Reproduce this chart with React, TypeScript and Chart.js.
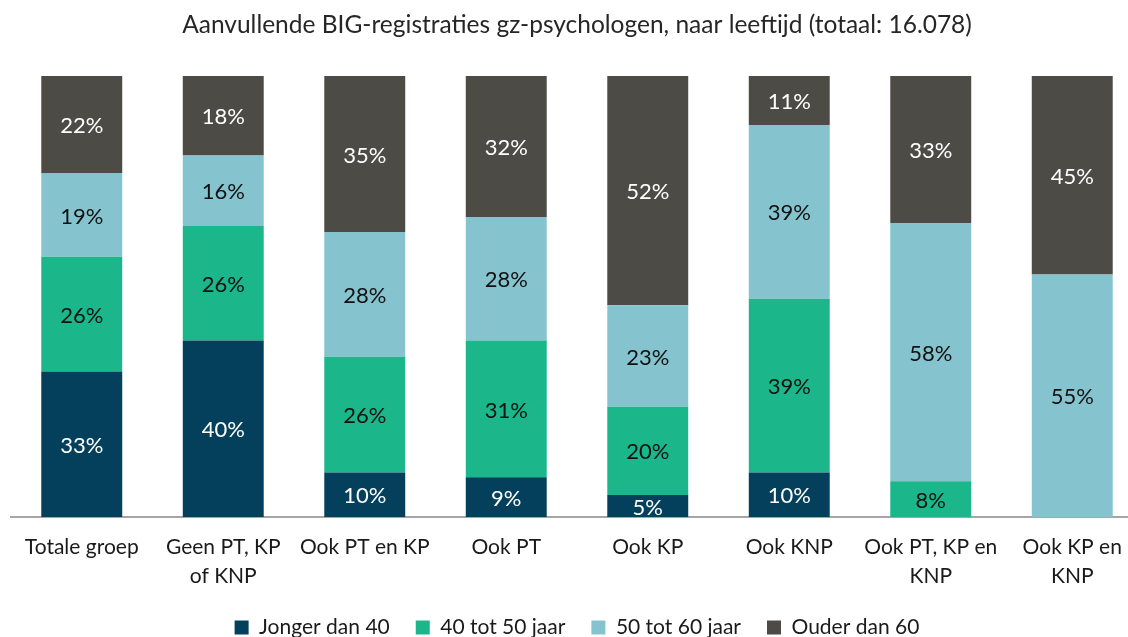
import React, { useEffect, useRef } from "react";
import { Chart, registerables } from "chart.js";

Chart.register(...registerables);

const titleText = "Aanvullende BIG-registraties gz-psychologen, naar leeftijd (totaal: 16.078)";

const categories: (string | string[])[] = [
  "Totale groep",
  ["Geen PT, KP", "of KNP"],
  "Ook PT en KP",
  "Ook PT",
  "Ook KP",
  "Ook KNP",
  ["Ook PT, KP en", "KNP"],
  ["Ook KP en", "KNP"],
];

const seriesNames = ["Jonger dan 40", "40 tot 50 jaar", "50 tot 60 jaar", "Ouder dan 60"];

const jongerDan40 = [33, 40, 10, 9, 5, 10, 0, 0];
const tot50 = [26, 26, 26, 31, 20, 39, 8, 0];
const tot60 = [19, 16, 28, 28, 23, 39, 58, 55];
const ouderDan60 = [22, 18, 35, 32, 52, 11, 33, 45];

const seriesColors = ["#04405B", "#1BB68A", "#85C4CE", "#4D4B46"];
const labelColors = ["#FFFFFF", "#111111", "#111111", "#FFFFFF"];

const FONT = "Lato";

export default function App() {
  const canvasRef = useRef<HTMLCanvasElement | null>(null);

  useEffect(() => {
    const canvas = canvasRef.current;
    if (!canvas) return;
    const raw = [jongerDan40, tot50, tot60, ouderDan60];
    const totals = categories.map((_, j) => raw.reduce((s, arr) => s + arr[j], 0));
    const datasets = raw.map((arr, i) => ({
      label: seriesNames[i],
      data: arr.map((v, j) => (v / totals[j]) * 100),
      backgroundColor: seriesColors[i],
      borderWidth: 0,
      categoryPercentage: 1,
      barPercentage: 0.572,
    }));

    const dataLabels = {
      id: "dataLabels",
      afterDatasetsDraw(chart: any) {
        const ctx = chart.ctx;
        ctx.save();
        ctx.font = `22px ${FONT}`;
        ctx.textAlign = "center";
        ctx.textBaseline = "middle";
        raw.forEach((arr, i) => {
          const meta = chart.getDatasetMeta(i);
          meta.data.forEach((bar: any, j: number) => {
            const v = arr[j];
            if (!v) return;
            const p = bar.getProps(["x", "y", "base"], true);
            ctx.fillStyle = labelColors[i];
            ctx.fillText(`${v}%`, p.x, (p.y + p.base) / 2 + 1.5);
          });
        });
        ctx.restore();
      },
    };

    const chart = new Chart(canvas, {
      type: "bar",
      data: { labels: categories as any, datasets },
      plugins: [dataLabels],
      options: {
        responsive: false,
        animation: false,
        devicePixelRatio: 1,
        layout: { padding: { left: 11, right: 12, top: 0, bottom: 0 } },
        plugins: {
          title: {
            display: true,
            text: titleText,
            color: "#262626",
            font: { family: FONT, size: 24.5, weight: "normal" },
            padding: { top: 10.6, bottom: 36 },
          },
          legend: {
            position: "bottom",
            labels: {
              boxWidth: 14,
              boxHeight: 14,
              padding: 26,
              color: "#1a1a1a",
              font: { family: FONT, size: 21 },
            },
          },
          tooltip: { enabled: false },
        },
        scales: {
          x: {
            stacked: true,
            grid: { display: false, drawTicks: false },
            border: { display: true, color: "#A5A5A5", width: 2 },
            ticks: {
              color: "#1a1a1a",
              font: { family: FONT, size: 21, lineHeight: 29 / 21 },
              padding: 15.5,
              autoSkip: false,
              maxRotation: 0,
              minRotation: 0,
            },
            afterFit: (scale: any) => {
              scale.height = 74;
            },
          },
          y: {
            stacked: true,
            min: 0,
            max: 100,
            display: false,
          },
        },
      },
    });
    return () => chart.destroy();
  }, []);

  return (
    <div
      style={{
        position: "absolute",
        left: 0,
        top: 0,
        width: 1128,
        height: 637,
        overflow: "hidden",
        background: "#fff",
      }}
    >
      <canvas ref={canvasRef} width={1155} height={648} style={{ display: "block" }} />
    </div>
  );
}
